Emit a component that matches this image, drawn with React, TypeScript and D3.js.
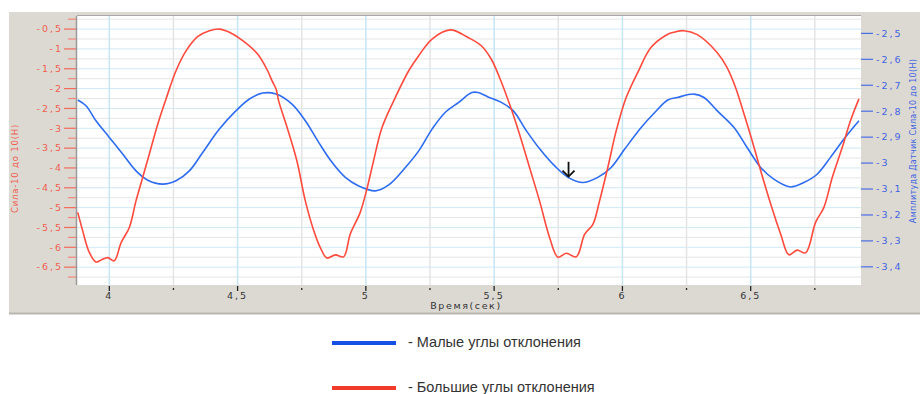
import React from "react";
import * as d3 from "d3";

// time (s) and force readings
const redT = [3.877, 3.896, 3.922, 3.948, 3.968, 3.994, 4.019, 4.046, 4.078, 4.104, 4.13, 4.156, 4.189, 4.221, 4.26, 4.299, 4.344, 4.39, 4.429, 4.468, 4.52, 4.578, 4.617, 4.634, 4.65, 4.66, 4.693, 4.731, 4.764, 4.797, 4.822, 4.848, 4.881, 4.913, 4.939, 4.978, 5.004, 5.03, 5.063, 5.115, 5.167, 5.206, 5.258, 5.329, 5.398, 5.45, 5.489, 5.521, 5.56, 5.599, 5.638, 5.677, 5.716, 5.749, 5.781, 5.82, 5.853, 5.885, 5.911, 5.943, 5.976, 6.015, 6.06, 6.112, 6.177, 6.2, 6.24, 6.292, 6.369, 6.408, 6.441, 6.474, 6.506, 6.539, 6.578, 6.617, 6.649, 6.681, 6.714, 6.753, 6.785, 6.818, 6.857, 6.889, 6.922];
const redV = [-5.12, -5.58, -6.13, -6.37, -6.32, -6.26, -6.34, -5.88, -5.5, -4.83, -4.24, -3.65, -2.89, -2.26, -1.55, -1.05, -0.69, -0.54, -0.5, -0.58, -0.79, -1.13, -1.55, -1.8, -2.01, -2.31, -2.98, -3.82, -4.83, -5.58, -6.0, -6.27, -6.19, -6.24, -5.67, -5.12, -4.53, -3.82, -2.98, -2.22, -1.55, -1.17, -0.75, -0.52, -0.71, -0.92, -1.26, -1.72, -2.39, -3.15, -3.99, -4.83, -5.75, -6.25, -6.15, -6.24, -5.67, -5.42, -4.83, -3.99, -3.06, -2.22, -1.59, -0.96, -0.63, -0.58, -0.54, -0.64, -1.09, -1.47, -1.97, -2.64, -3.32, -4.07, -4.91, -5.67, -6.19, -6.07, -6.14, -5.37, -5.0, -4.24, -3.48, -2.81, -2.26];

const blueT = [3.877, 3.909, 3.948, 4.0, 4.052, 4.104, 4.15, 4.208, 4.26, 4.312, 4.364, 4.429, 4.494, 4.546, 4.598, 4.65, 4.712, 4.764, 4.816, 4.868, 4.92, 4.972, 5.037, 5.089, 5.154, 5.206, 5.258, 5.309, 5.362, 5.413, 5.437, 5.476, 5.528, 5.574, 5.626, 5.678, 5.736, 5.788, 5.846, 5.904, 5.956, 6.009, 6.073, 6.126, 6.177, 6.214, 6.279, 6.318, 6.369, 6.435, 6.486, 6.539, 6.59, 6.655, 6.707, 6.759, 6.811, 6.863, 6.922];
const blueV = [-2.757, -2.779, -2.837, -2.901, -2.965, -3.03, -3.066, -3.081, -3.068, -3.03, -2.959, -2.869, -2.798, -2.753, -2.73, -2.734, -2.773, -2.837, -2.92, -2.997, -3.055, -3.088, -3.107, -3.084, -3.017, -2.953, -2.869, -2.805, -2.766, -2.728, -2.728, -2.745, -2.766, -2.798, -2.876, -2.946, -3.011, -3.055, -3.075, -3.055, -3.017, -2.946, -2.863, -2.805, -2.757, -2.747, -2.734, -2.747, -2.798, -2.863, -2.94, -3.017, -3.062, -3.092, -3.075, -3.043, -2.978, -2.908, -2.837];

const xMajor = [4, 4.5, 5, 5.5, 6, 6.5];
const xMinor = [4.25, 4.75, 5.25, 5.75, 6.25, 6.75];
const leftMajor = [-0.5, -1, -1.5, -2, -2.5, -3, -3.5, -4, -4.5, -5, -5.5, -6, -6.5];
const leftMinor = [-0.25, -0.75, -1.25, -1.75, -2.25, -2.75, -3.25, -3.75, -4.25, -4.75, -5.25, -5.75, -6.25, -6.75];
const rightTicks = [-2.5, -2.6, -2.7, -2.8, -2.9, -3, -3.1, -3.2, -3.3, -3.4];

const arrowT = 5.79;
const arrowFrom = -2.995;
const arrowTo = -3.052;

const legendItems = [
  { label: "- Малые углы отклонения", color: "#1450e6" },
  { label: "- Большие углы отклонения", color: "#f23a2a" },
];

const fmt = (v: number) => String(v).replace(".", ",");

export default function App() {
  const width = 920;
  const height = 394;
  const plot = { left: 77, right: 861, top: 16, bottom: 285 };

  const x = d3.scaleLinear().domain([3.874, 6.93]).range([plot.left, plot.right]);
  const yL = d3.scaleLinear().domain([-6.95, -0.17]).range([plot.bottom, plot.top]);
  const yR = d3.scaleLinear().domain([-3.47, -2.433]).range([plot.bottom, plot.top]);

  const redLine = d3
    .line<number>()
    .x((d) => x(redT[d]))
    .y((d) => yL(redV[d]))
    .curve(d3.curveCatmullRom.alpha(0.5));
  const blueLine = d3
    .line<number>()
    .x((d) => x(blueT[d]))
    .y((d) => yR(blueV[d]))
    .curve(d3.curveCatmullRom.alpha(0.5));

  const tickFont = {
    fontFamily: "DejaVu Sans, sans-serif",
    fontSize: 9.5,
    letterSpacing: 2,
  } as const;

  const ax = x(arrowT);
  const ay0 = yR(arrowFrom);
  const ay1 = yR(arrowTo);

  return (
    <div>
      <style>{`body{margin:0}`}</style>
      <svg width={width} height={height} style={{ display: "block", background: "#fff" }}>
        {/* grey frame */}
        <rect x={9} y={12} width={width - 9} height={301} fill="#dcd9d3" />
        <line x1={9} x2={width} y1={313.5} y2={313.5} stroke="#b9b6b0" strokeWidth={2} />

        {/* plot area */}
        <rect x={plot.left} y={plot.top} width={plot.right - plot.left} height={plot.bottom - plot.top} fill="#fff" />

        {/* grid */}
        {leftMinor.map((v) => (
          <line key={"hm" + v} x1={plot.left} x2={plot.right} y1={yL(v)} y2={yL(v)} stroke="#e6e6e6" />
        ))}
        {leftMajor.map((v) => (
          <line key={"hM" + v} x1={plot.left} x2={plot.right} y1={yL(v)} y2={yL(v)} stroke="#cfe9f6" />
        ))}
        {xMinor.map((v) => (
          <line key={"vm" + v} x1={x(v)} x2={x(v)} y1={plot.top} y2={plot.bottom} stroke="#e4e4e4" strokeWidth={1.5} />
        ))}
        {xMajor.map((v) => (
          <line key={"vM" + v} x1={x(v)} x2={x(v)} y1={plot.top} y2={plot.bottom} stroke="#c6e6f6" strokeWidth={1.5} />
        ))}

        {/* plot border */}
        <line x1={plot.left} x2={plot.right} y1={plot.top - 0.5} y2={plot.top - 0.5} stroke="#a8a8a8" />
        <line x1={plot.left - 0.5} x2={plot.left - 0.5} y1={plot.top} y2={plot.bottom} stroke="#9a9a9a" strokeWidth={1.5} />

        {/* series */}
        <path d={blueLine(d3.range(blueT.length)) || ""} fill="none" stroke="#2d6cf0" strokeWidth={1.6} />
        <path d={redLine(d3.range(redT.length)) || ""} fill="none" stroke="#ff4a3c" strokeWidth={1.6} />

        {/* arrow marker */}
        <g stroke="#111" strokeWidth={1.8} fill="none">
          <line x1={ax} x2={ax} y1={ay0} y2={ay1} />
          <path d={`M${ax - 6},${ay1 - 6} L${ax},${ay1} L${ax + 6},${ay1 - 6}`} />
        </g>

        {/* left axis */}
        {leftMinor.map((v) => (
          <line key={"lm" + v} x1={68} x2={plot.left - 1} y1={yL(v)} y2={yL(v)} stroke="#f2857a" strokeWidth={1.2} />
        ))}
        {leftMajor.map((v) => (
          <g key={"lM" + v}>
            <line x1={64} x2={plot.left - 1} y1={yL(v)} y2={yL(v)} stroke="#f26a5c" strokeWidth={1.2} />
            <text x={63} y={yL(v)} dy="0.35em" textAnchor="end" fill="#f0604f" {...tickFont}>
              {fmt(v)}
            </text>
          </g>
        ))}
        <text
          transform={`translate(18,${(plot.top + plot.bottom) / 2 + 18}) rotate(-90)`}
          textAnchor="middle"
          fill="#f0604f"
          fontFamily="DejaVu Sans, sans-serif"
          fontSize={8.5}
          letterSpacing={0.8}
        >
          Сила-10 до 10(Н)
        </text>

        {/* right axis */}
        {rightTicks.map((v) => (
          <g key={"r" + v}>
            <line x1={plot.right} x2={873} y1={yR(v)} y2={yR(v)} stroke="#4a6ee6" strokeWidth={1.2} />
            <text x={876} y={yR(v)} dy="0.35em" textAnchor="start" fill="#3f63e0" {...tickFont}>
              {fmt(v)}
            </text>
          </g>
        ))}
        <text
          transform={`translate(916,${141}) rotate(-90)`}
          textAnchor="middle"
          fill="#3f63e0"
          fontFamily="DejaVu Sans, sans-serif"
          fontSize={8}
          letterSpacing={0.3}
        >
          Амплитуда Датчик Сила-10 до 10(Н)
        </text>

        {/* bottom axis */}
        {xMajor.map((v) => (
          <g key={"xM" + v}>
            <line x1={x(v)} x2={x(v)} y1={plot.bottom + 1} y2={plot.bottom + 6} stroke="#222" strokeWidth={1.3} />
            <text x={x(v)} y={299} textAnchor="middle" fill="#333" {...tickFont}>
              {fmt(v)}
            </text>
          </g>
        ))}
        {xMinor.map((v) => (
          <line key={"xm" + v} x1={x(v)} x2={x(v)} y1={plot.bottom + 3} y2={plot.bottom + 5} stroke="#222" strokeWidth={1.3} />
        ))}
        <text x={466} y={309} textAnchor="middle" fill="#333" {...tickFont} letterSpacing={1.6}>
          Время(сек)
        </text>

        {/* legend */}
        {legendItems.map((it, i) => (
          <g key={it.label} transform={`translate(332,${343 + i * 45})`}>
            <line x1={0} x2={64} y1={0} y2={0} stroke={it.color} strokeWidth={4} />
            <text x={76} y={-1.5} dy="0.35em" fill="#333" fontFamily="Liberation Sans, Arial, sans-serif" fontSize={14.5}>
              {it.label}
            </text>
          </g>
        ))}
      </svg>
    </div>
  );
}
